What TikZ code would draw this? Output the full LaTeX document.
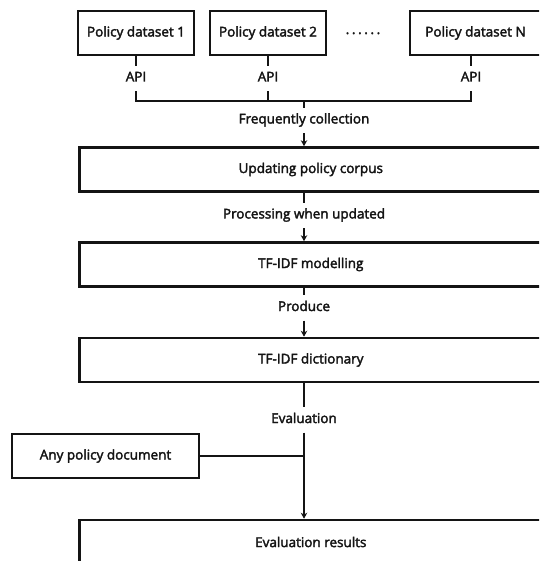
\documentclass[tikz,border=0pt]{standalone}
\usepackage{fontspec}
\setmainfont{Open Sans}[BoldFont={Open Sans}, BoldFeatures={FakeBold=2.5}]
\usetikzlibrary{positioning,arrows.meta}
\definecolor{ink}{RGB}{20,20,20}
\newcommand{\txt}{\fontsize{13.5}{15}\selectfont\bfseries}
\tikzset{
  box/.style={draw=ink, line width=2.6pt, inner sep=2pt, text=ink,
    font=\txt, minimum height=44pt},
  src/.style={box, minimum width=116pt},
  wide/.style={box, anchor=west, minimum width=463pt},
  lbl/.style={inner sep=6.5pt, text height=9pt, text depth=3pt, text=ink,
    font=\txt},
  link/.style={draw=ink, line width=2.2pt},
  flow/.style={link, -{Stealth[length=6pt,width=6.5pt]}},
}

\begin{document}
\begin{tikzpicture}[x=1pt,y=-1pt]
  \useasboundingbox (0,0) rectangle (539,561);
  \clip (0,0) rectangle (539,561);

  % sources
  \node[src] (d1) at (136,33) {Policy dataset 1};
  \node[src] (d2) at (268,33) {Policy dataset 2};
  \node[lbl] (dots) at (363,31) {.\kern2.6pt.\kern2.6pt.\kern2.6pt.\kern2.6pt.\kern2.6pt.};
  \node[src, minimum width=131pt] (dN) at (475.5,33) {Policy dataset N};

  \node[lbl] (a1) at (136,78.5) {API};
  \node[lbl] (a2) at (268,78.5) {API};
  \node[lbl] (aN) at (471,78.5) {API};
  \coordinate (bus) at (304,101);

  % main column
  \node[lbl] (fc) at (304,120.5) {Frequently collection};
  \node[wide] (corpus) at (78,169.5) {Updating policy corpus};
  \node[lbl] (pu) at (304,215.5) {Processing when updated};
  \node[wide] (model) at (78,264.5) {TF-IDF modelling};
  \node[lbl] (pr) at (304,308) {Produce};
  \node[wide] (dict) at (78,360) {TF-IDF dictionary};
  \node[lbl] (ev) at (304,420) {Evaluation};
  \node[box, minimum width=187pt] (doc) at (105.5,456) {Any policy document};
  \node[wide] (res) at (78,542) {Evaluation results};

  % connectors
  \draw[link] (d1.south -| a1) -- (a1);
  \draw[link] (d2.south -| a2) -- (a2);
  \draw[link] (dN.south -| aN) -- (aN);
  \draw[link] (a1) -- (a1 |- bus) -- (aN |- bus) -- (aN);
  \draw[link] (a2) -- (a2 |- bus);
  \draw[link] (bus) -- (fc);
  \draw[flow] (fc) -- (corpus.north -| fc);
  \draw[link] (corpus.south -| pu) -- (pu);
  \draw[flow] (pu) -- (model.north -| pu);
  \draw[link] (model.south -| pr) -- (pr);
  \draw[flow] (pr) -- (dict.north -| pr);
  \draw[link] (dict.south -| ev) -- (ev);
  \draw[flow] (ev) -- (res.north -| ev);
  \draw[link] (doc.east) -- (doc.east -| ev);
\end{tikzpicture}
\end{document}
